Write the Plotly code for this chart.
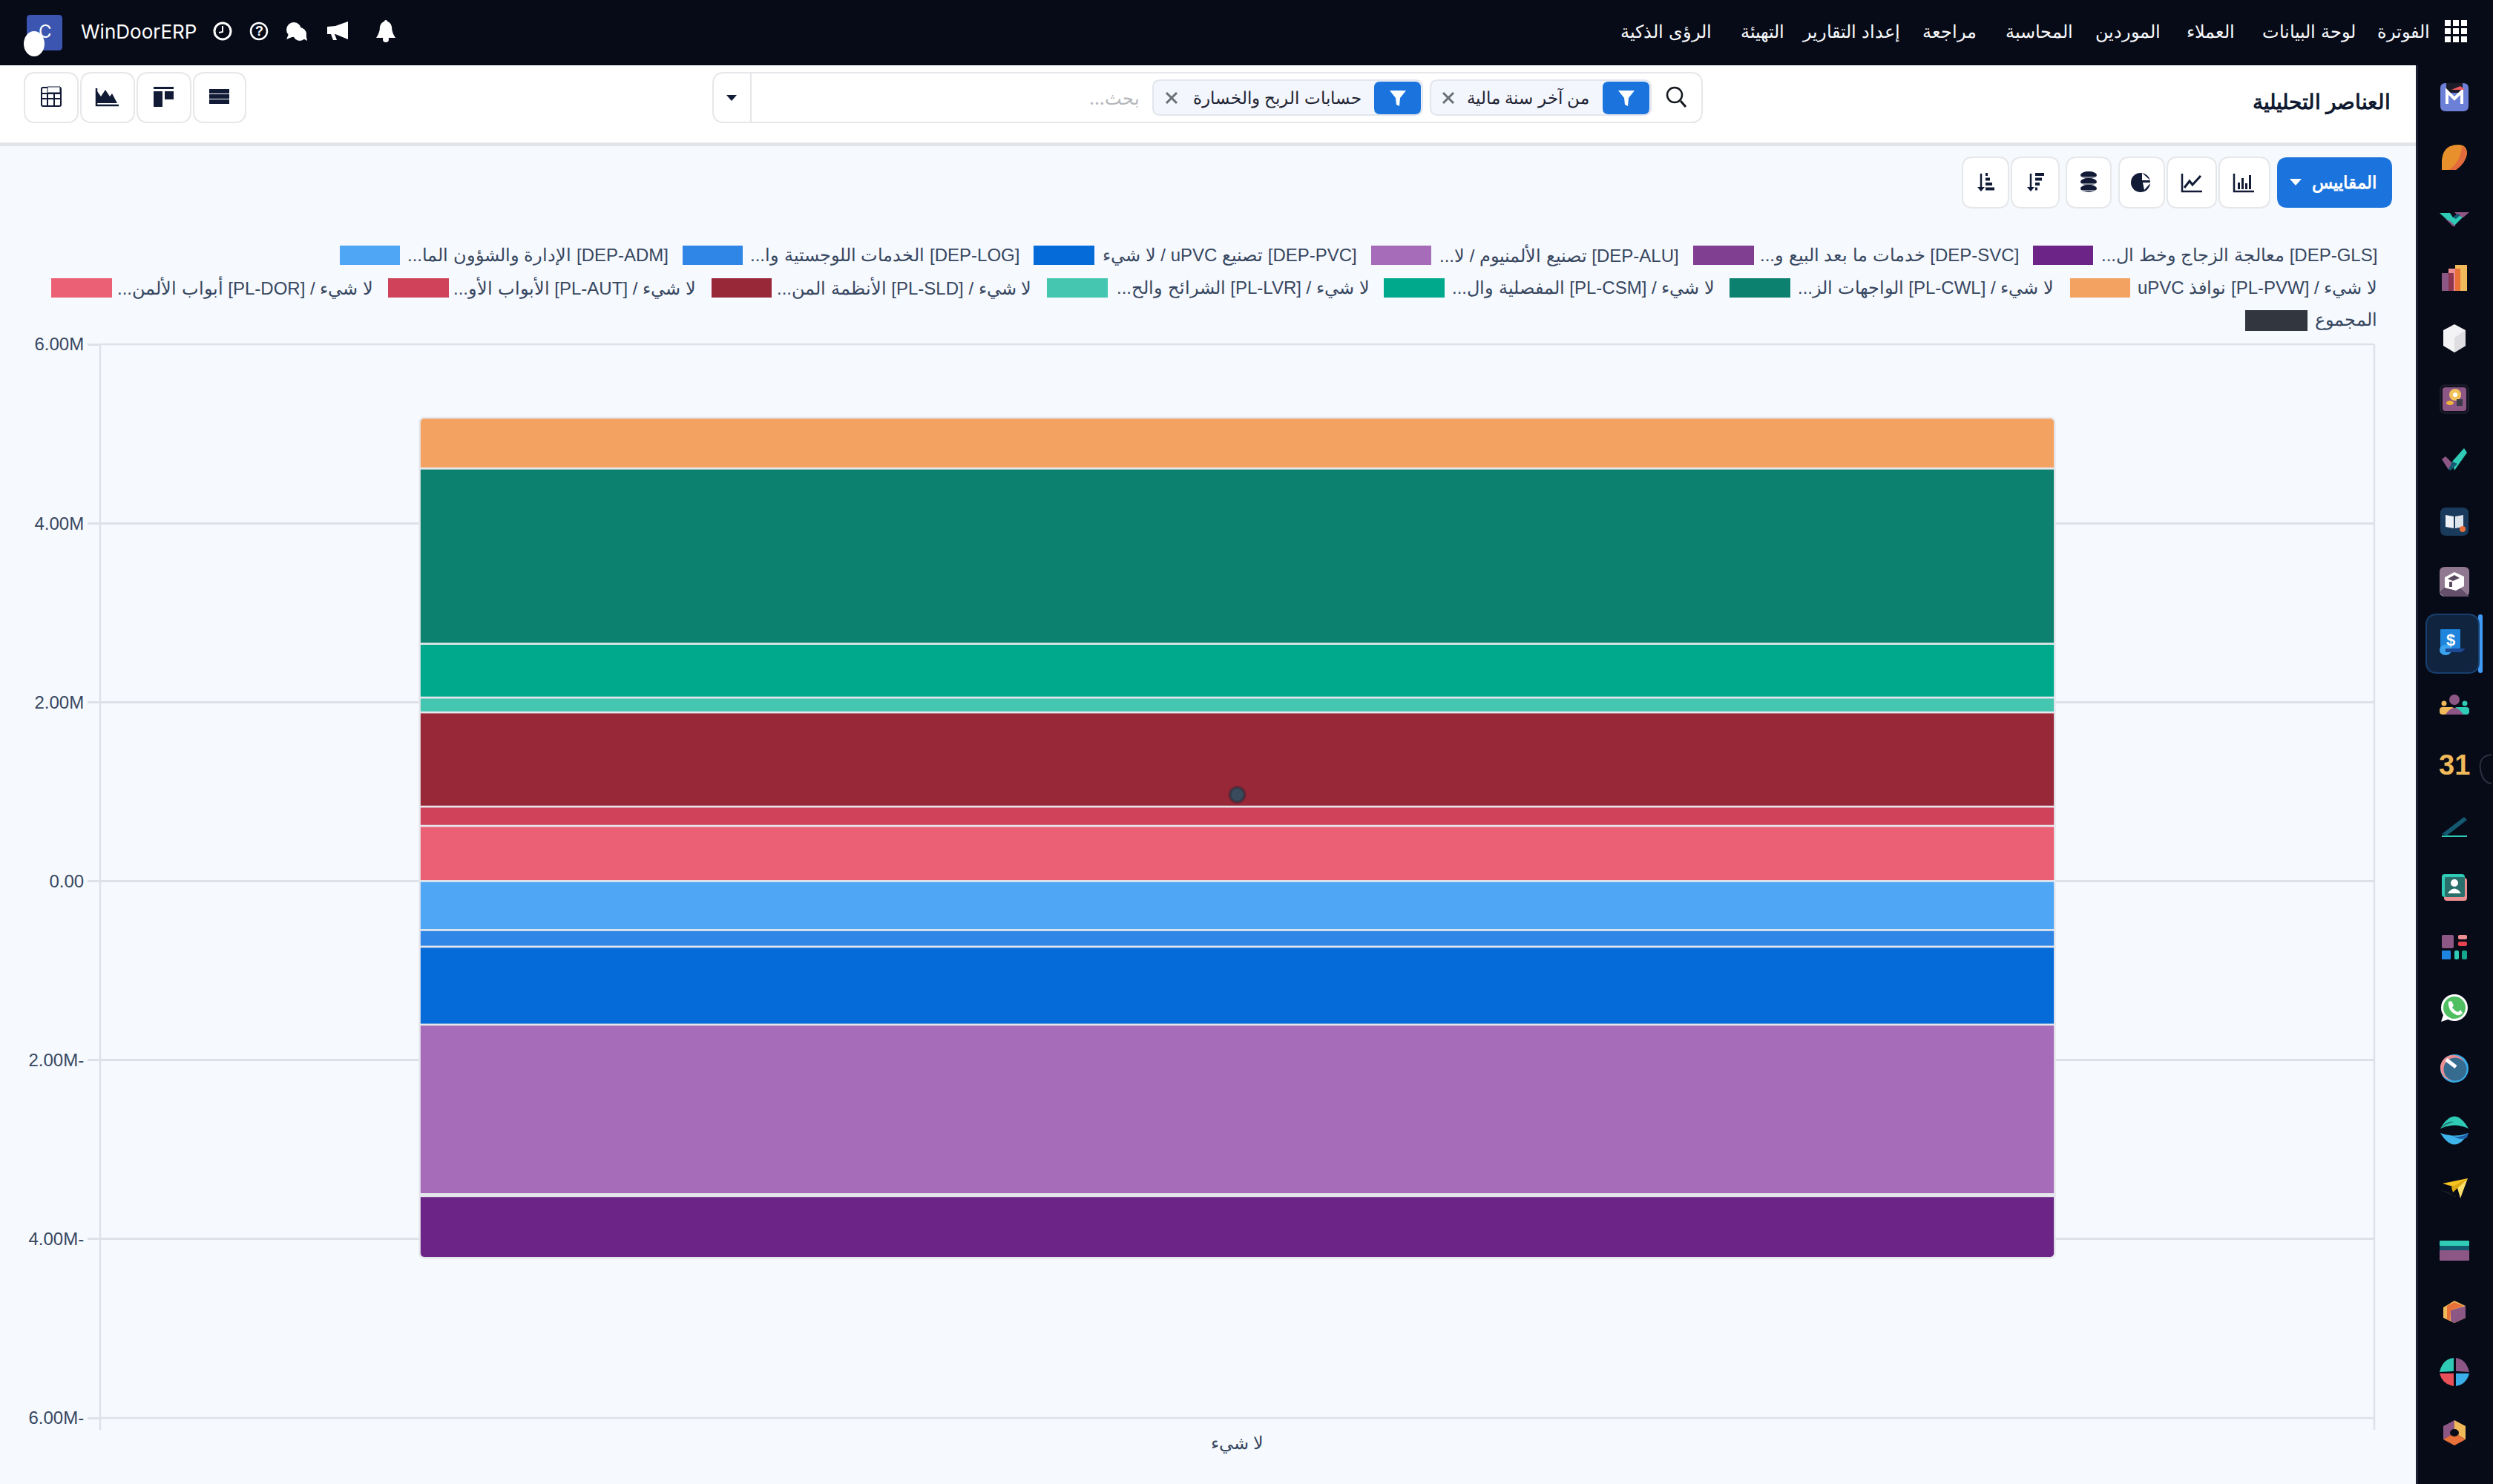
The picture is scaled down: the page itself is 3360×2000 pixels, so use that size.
import re
import plotly.graph_objects as go

# ---------- DATA ----------
category = ["لا شيء"]
series_names = [
    "[DEP-GLS] معالجة الزجاج وخط ال...", "[DEP-SVC] خدمات ما بعد البيع و...",
    "[DEP-ALU] تصنيع الألمنيوم / لا...", "[DEP-PVC] تصنيع uPVC / لا شيء",
    "[DEP-LOG] الخدمات اللوجستية وا...", "[DEP-ADM] الإدارة والشؤون الما...",
    "لا شيء / [PL-PVW] نوافذ uPVC", "لا شيء / [PL-CWL] الواجهات الز...",
    "لا شيء / [PL-CSM] المفصلية وال...", "لا شيء / [PL-LVR] الشرائح والح...",
    "لا شيء / [PL-SLD] الأنظمة المن...", "لا شيء / [PL-AUT] الأبواب الأو...",
    "لا شيء / [PL-DOR] أبواب الألمن...",
]
series_values = [-690000, -20000, -1895000, -871000, -186000, -548000,
                 566000, 1959000, 601000, 166000, 1053000, 215000, 618000]
series_colors = ["#6c2487", "#813f92", "#a66bb9", "#056bd9", "#3086e6", "#4ea6f4",
                 "#f4a261", "#0d8170", "#00a98c", "#44c6b1", "#982738", "#cf4259", "#ec6076"]
total_name = "المجموع"
total_values = [966000]
total_color = "#32363e"
tick_values = [6e6, 4e6, 2e6, 0, -2e6, -4e6, -6e6]
tick_labels = ["6.00M", "4.00M", "2.00M", "0.00", "2.00M-", "4.00M-", "6.00M-"]
menu_items = ["الفوترة", "لوحة البيانات", "العملاء", "الموردين", "المحاسبة", "مراجعة",
              "إعداد التقارير", "التهيئة", "الرؤى الذكية"]

# ---------- PAGE GEOMETRY ----------
W, H = 3360, 2000
BG = "#f6f9fe"; DARK = "#070b18"; BLUE = "#1b74dd"; NAVY = "#111b36"; EDGE = "#e6e7ea"
TEXT = "#374760"
UI_FONT = "Inter, sans-serif"
def fx(x): return x / W
def fy(y): return 1 - y / H

shapes, notes = [], []

def xform(d):
    toks = re.findall(r"[MLQCZ]|-?\d+\.?\d*", d)
    out, isx = [], True
    for t in toks:
        if t in "MLQCZ":
            out.append(t); isx = True
        else:
            out.append(f"{fx(float(t)):.6f}" if isx else f"{fy(float(t)):.6f}")
            isx = not isx
    s, i = "", 0
    while i < len(out):
        t = out[i]
        if t in "MLQCZ":
            s += t; i += 1
        else:
            s += out[i] + "," + out[i + 1] + " "; i += 2
    return s

def P(d, fill="rgba(0,0,0,0)", line=None, lw=0):
    shapes.append(dict(type="path", xref="paper", yref="paper", path=xform(d), fillcolor=fill,
                       line=dict(color=line or "rgba(0,0,0,0)", width=lw), layer="below"))

def RR(x0, y0, x1, y1, fill, line=None, lw=0, r=0):
    if r <= 0:
        d = f"M{x0} {y0} L{x1} {y0} L{x1} {y1} L{x0} {y1} Z"
    else:
        d = (f"M{x0+r} {y0} L{x1-r} {y0} Q{x1} {y0} {x1} {y0+r} L{x1} {y1-r} Q{x1} {y1} {x1-r} {y1} "
             f"L{x0+r} {y1} Q{x0} {y1} {x0} {y1-r} L{x0} {y0+r} Q{x0} {y0} {x0+r} {y0} Z")
    P(d, fill, line, lw)

def CI(cx, cy, r, fill, line=None, lw=0, ry=None):
    ry = ry or r
    shapes.append(dict(type="circle", xref="paper", yref="paper", x0=fx(cx - r), x1=fx(cx + r),
                       y0=fy(cy + ry), y1=fy(cy - ry), fillcolor=fill,
                       line=dict(color=line or "rgba(0,0,0,0)", width=lw), layer="below"))

def LN(x0, y0, x1, y1, color, w=2):
    shapes.append(dict(type="line", xref="paper", yref="paper", x0=fx(x0), x1=fx(x1), y0=fy(y0), y1=fy(y1),
                       line=dict(color=color, width=w), layer="below"))

def T(x, y, text, size=26, color=TEXT, anchor="right", family=UI_FONT, bold=False):
    t = f"<b>{text}</b>" if bold else text
    notes.append(dict(xref="paper", yref="paper", x=fx(x), y=fy(y), text=t, showarrow=False,
                      xanchor=anchor, yanchor="middle", borderpad=0,
                      font=dict(size=size, color=color, family=family)))

def rtl(s): return "\u202b" + s + "\u202c"

def poly(cx, cy, pts, fill):
    d = "M" + " L".join(f"{cx+a} {cy+b}" for a, b in pts) + " Z"
    P(d, fill)

# ---------- BACKGROUND FRAMES ----------
RR(0, 88, 3257, 192, "#ffffff")
RR(0, 192, 3257, 197, "#e3e4e8")
RR(0, 0, 3360, 88, DARK)
RR(3256, 0, 3360, 2000, DARK)
RR(3256, 88, 3259, 2000, "#1a2030")

# ---------- TOP BAR ----------
for x in (3295, 3306, 3317):
    for y in (27, 38, 49):
        RR(x, y, x + 8, y + 8, "#ffffff")
menu_right = [3276, 3176, 3013, 2913, 2795, 2665, 2562, 2406, 2308]
for x, s in zip(menu_right, menu_items):
    T(x, 42, s, size=23.5, color="#f8f9fb")
RR(36, 20, 84, 68, "#3b55b0", r=5)
CI(46, 59, 14, "#ffffff", ry=17)
T(61, 42, "C", size=24, color="#ffffff", anchor="center")
T(108, 42, "WinDoorERP", size=26, color="#ffffff", anchor="left")
CI(300, 42, 11, "rgba(0,0,0,0)", "#ffffff", 3)
P("M300 35 L300 43 L295 44", line="#ffffff", lw=2)
CI(349, 42, 11, "rgba(0,0,0,0)", "#ffffff", 2.5)
T(349, 42, "?", size=18, color="#ffffff", anchor="center", family="Liberation Sans", bold=True)
CI(396, 40, 10, "#ffffff"); CI(404, 46, 9, "#ffffff")
P("M389 46 L386 53 L396 49 Z", "#ffffff"); P("M405 50 L414 55 L412 45 Z", "#ffffff")
P("M441 36 L452 35 L469 29 L469 53 L452 46 L441 46 Z", "#ffffff")
P("M446 46 L451 46 L454 54 L449 54 Z", "#ffffff")
P("M507 51 Q512 44 512 36 Q513 30 520 28 Q527 30 528 36 Q528 44 533 51 Z", "#ffffff")
CI(520, 53, 4, "#ffffff"); CI(520, 29, 2, "#ffffff")

# ---------- HEADER ----------
T(3223, 138, "العناصر التحليلية", size=28, color="#101a30", bold=True)
for x0, x1 in [(33, 105), (109, 181), (185, 257), (261, 331)]:
    RR(x0, 98, x1, 165, "#ffffff", EDGE, 2, r=15)
RR(56, 118, 82, 143, "rgba(0,0,0,0)", NAVY, 2, r=2)
for x in (64, 73): LN(x, 126, x, 143, NAVY, 2)
for y in (126, 133): LN(56, y, 82, y, NAVY, 2)
RR(64, 117, 81, 125, "#ffffff", NAVY, 1)
P("M130 119 L130 142 L160 142", line=NAVY, lw=2.5)
P("M131 139 L131 123 L136 130 L142 121 L148 130 L151 126 L158 139 Z", NAVY)
RR(207, 117, 234, 120, NAVY); RR(207, 123, 219, 144, NAVY); RR(222, 123, 234, 134, NAVY)
for y in (120, 127, 134): RR(282, y, 309, y + 6, NAVY)
# ---------- SEARCH ----------
RR(961, 98, 2294, 165, "#ffffff", EDGE, 2, r=15)
LN(1012, 98, 1012, 165, EDGE, 2)
P("M979 128 L993 128 L986 136 Z", NAVY)
CI(2257, 128, 10, "rgba(0,0,0,0)", "#14181f", 2.5)
LN(2265, 136, 2272, 144, "#14181f", 3)
RR(1928, 108, 2225, 155, "#f3f6fc", "#e3e6ec", 2, r=10)
RR(2160, 110, 2223, 154, BLUE, r=8)
RR(1554, 108, 1917, 155, "#f3f6fc", "#e3e6ec", 2, r=10)
RR(1852, 110, 1915, 154, BLUE, r=8)
for cx in (2192, 1884):
    P(f"M{cx-11} 122 L{cx+11} 122 L{cx+3} 132 L{cx+2} 143 L{cx-2} 141 L{cx-3} 132 Z", "#ffffff")
T(2143, 132, "من آخر سنة مالية", size=23, color="#1f2433")
T(1836, 132, "حسابات الربح والخسارة", size=23, color="#1f2433")
for cx in (1952, 1579):
    LN(cx - 7, 125, cx + 7, 139, "#6b7078", 3); LN(cx - 7, 139, cx + 7, 125, "#6b7078", 3)
T(1537, 132, rtl("بحث..."), size=24, color="#b4b6bb")

# ---------- CONTROL ROW ----------
RR(3069, 212, 3224, 280, BLUE, r=14)
T(3204, 246, "المقاييس", size=23, color="#ffffff", bold=True)
P("M3086 241 L3102 241 L3094 250 Z", "#ffffff")
btns = [(2991, 3059), (2921, 2987), (2856, 2917), (2785, 2845), (2711, 2775), (2645, 2707)]
for x0, x1 in btns:
    RR(x0, 212, x1, 280, "#ffffff", EDGE, 2, r=14)
P("M3011 234 L3011 258 L3038 258", line=NAVY, lw=2.5)
for x, y in [(3016, 246), (3021, 240), (3026, 247), (3031, 236)]:
    RR(x, y, x + 3, 255, NAVY)
P("M2941 234 L2941 258 L2968 258", line=NAVY, lw=2.5)
P("M2944 253 L2951 244 L2955 249 L2966 237", line=NAVY, lw=3)
CI(2885, 246, 13, NAVY)
P("M2887 233 L2898 243 L2887 243 Z", "#ffffff")
P("M2888 246 L2899 246 L2890 256 Z", "#ffffff")
for y in (236, 245, 254):
    CI(2815, y, 11, NAVY, ry=5)
    LN(2805, y + 3, 2825, y + 3, "#ffffff", 1)
for cx, widths in ((2737, (12, 9, 6, 3)), (2670, (3, 6, 9, 12))):
    LN(cx, 234, cx, 256, NAVY, 2.5)
    P(f"M{cx-5} 252 L{cx+5} 252 L{cx} 258 Z", NAVY)
    for i, w in enumerate(widths):
        RR(cx + 6, 233 + i * 6.5, cx + 6 + w, 237 + i * 6.5, NAVY)

# ---------- CUSTOM LEGEND (rows run right to left) ----------
sw_rows = [(331, 357)] * 6 + [(375, 401)] * 7
sw_x = [(2740, 2821), (2282, 2364), (1848, 1929), (1393, 1475), (920, 1001), (458, 539),
        (2790, 2871), (2331, 2413), (1865, 1947), (1411, 1493), (959, 1040), (523, 605), (69, 151)]
tx_r = [3205, 2722, 2264, 1830, 1375, 902, 3205, 2769, 2312, 1847, 1391, 939, 504]
LEG_FONT = "Liberation Sans, Arial, sans-serif"
for name, col, (y0, y1), (x0, x1), r in zip(series_names, series_colors, sw_rows, sw_x, tx_r):
    RR(x0, y0, x1, y1, col)
    T(r, (y0 + y1) / 2, rtl(name), size=24, family=LEG_FONT)
RR(3026, 418, 3110, 446, total_color)
T(3205, 431, rtl(total_name), size=24, family=LEG_FONT)

# ---------- SIDEBAR ICONS ----------
cx = 3308
ys = [131, 212, 294, 375, 456, 538, 619, 703, 784, 866, 949, 1031, 1114, 1196, 1277, 1359, 1440, 1524, 1603, 1687, 1768, 1849, 1931]
PUR = "#8c5785"; TEAL = "#2fcbb6"; ORG = "#e8713a"; YEL = "#f0b95a"; PINK = "#ec8f92"; SKY = "#3aaee8"; DTEAL = "#13596f"
def box(y, s, fill, r=6): RR(cx - s, y - s, cx + s, y + s, fill, r=r)
y = ys[0]; box(y, 19, "#6c80d8", 7); RR(cx - 11, y - 19, cx + 11, y - 6, "#1c1c28")
P(f"M{cx-10} {y+9} L{cx-10} {y-8} L{cx} {y+2} L{cx+10} {y-8} L{cx+10} {y+9}", line="#ffffff", lw=4)
P(f"M{cx-4} {y-10} L{cx+14} {y-10} L{cx+8} {y-15} Z", "#ec5a5f")
y = ys[1]; P(f"M{cx-17} {y+17} L{cx-17} {y+4} Q{cx-15} {y-17} {cx+5} {y-17} Q{cx+17} {y-17} {cx+17} {y-5} Q{cx+15} {y+8} {cx+2} {y+17} Z", "#e8902b")
P(f"M{cx+2} {y+17} Q{cx+15} {y+8} {cx+17} {y-5} Q{cx+16} {y-13} {cx+10} {y-15} Q{cx+8} {y+8} {cx-8} {y+17} Z", "#e36a3c")
y = ys[2]; poly(cx, y, [(-20, -7), (-6, -7), (-2, -1), (6, -4), (12, -2), (0, 10), (-6, 6)], TEAL)
poly(cx, y, [(0, -8), (20, -8), (12, -1), (4, -4)], PUR); poly(cx, y, [(-12, 1), (-6, 4), (2, 11), (-2, 11)], PUR)
poly(cx, y, [(-2, -1), (4, -6), (8, -4), (2, 1)], DTEAL)
y = ys[3]; RR(cx - 17, y - 7, cx - 5, y + 17, PUR); RR(cx - 8, y - 13, cx + 1, y + 17, PINK)
RR(cx + 1, y - 18, cx + 17, y + 17, YEL); RR(cx + 1, y - 13, cx + 8, y + 17, ORG); RR(cx - 8, y - 7, cx - 1, y + 17, "#8c3550")
y = ys[4]; poly(cx, y, [(0, -19), (15, -11), (15, 10), (0, 19), (-15, 10), (-15, -11)], "#f3f3f5")
poly(cx, y, [(0, -1), (15, -11), (15, 10), (0, 19)], "#dddde2")
y = ys[5]; RR(cx - 19, y - 19, cx + 19, y + 19, "#12121f", "#2a2a3c", 1, r=6); RR(cx - 16, y - 16, cx + 16, y + 16, "#8c5785", r=4)
CI(cx + 1, y - 6, 8, "#f2c25a"); CI(cx + 1, y - 6, 3, "#ffffff"); CI(cx - 6, y + 5, 5, "#f2b53a", ry=3); RR(cx + 3, y, cx + 11, y + 9, "#3b3b4a")
y = ys[6]; poly(cx, y, [(-3, 3), (13, -15), (17, -9), (0, 15)], TEAL)
poly(cx, y, [(-17, 0), (-12, -4), (-3, 5), (-8, 14)], PUR); poly(cx, y, [(-8, 14), (-3, 3), (4, 6), (-5, 15)], DTEAL)
y = ys[7]; box(y, 19, "#1b3b5c", 8); poly(cx, y, [(-12, -9), (-1, -7), (-1, 9), (-12, 7)], "#edf0f4"); poly(cx, y, [(1, -7), (12, -9), (12, 7), (1, 9)], "#dde3ea"); CI(cx + 11, y + 10, 4, ORG)
y = ys[8]; box(y, 20, "#8f7890", 7); P(f"M{cx-20} {y+14} L{cx-3} {y-2} L{cx+20} {y+20} L{cx-14} {y+20} Z", "#64506a")
poly(cx, y, [(-13, -6), (0, -13), (13, -7), (13, 6), (2, 12), (-13, 8)], "#ffffff"); poly(cx, y, [(-9, -4), (0, -9), (7, -5), (-2, -1)], "#5a4a60"); RR(cx - 7, y, cx - 3, y + 7, "#5a4a60")
y = ys[9]; RR(3340, 828, 3346, 907, "#3f9bf5", r=3); RR(3270, 828, 3341, 907, "#10243f", "#17406e", 2, r=15)
RR(cx - 19, y - 18, cx + 8, y + 8, "#1f84db", r=1); CI(cx - 12, y + 10, 8, "#3aa5ee", ry=7); P(f"M{cx-12} {y+8} L{cx+15} {y+8} L{cx+9} {y+13} L{cx-12} {y+13} Z", "#1c4a96")
T(cx - 5, y - 4, "$", size=22, color="#ffffff", anchor="center", family="Liberation Sans", bold=True)
y = ys[10]; CI(cx, y - 6, 7, PUR); CI(cx - 14, y - 1, 3.5, YEL); CI(cx + 14, y - 1, 3.5, TEAL)
RR(cx - 20, y + 4, cx, y + 14, YEL, r=4); RR(cx, y + 4, cx + 20, y + 14, TEAL, r=4); P(f"M{cx-12} {y+14} Q{cx} {y-4} {cx+12} {y+14} Z", PUR)
T(cx, ys[11], "31", size=38, color=YEL, anchor="center", family="Liberation Sans", bold=True)
P("M3358 1017 Q3340 1019 3343 1037 Q3346 1055 3358 1056", line="#2a3040", lw=2)
y = ys[12]; poly(cx, y, [(-17, 10), (13, -13), (17, -9), (-10, 12)], DTEAL); RR(cx - 17, y + 12, cx + 17, y + 14, TEAL)
y = ys[13]; RR(cx - 14, y - 13, cx + 17, y + 18, PINK, r=4); RR(cx - 17, y - 18, cx + 14, y + 13, TEAL, r=4); RR(cx - 13, y - 14, cx + 14, y + 13, "#2a6f6b", r=2)
CI(cx, y - 6, 5, "#ffffff"); P(f"M{cx-9} {y+8} Q{cx} {y-5} {cx+9} {y+8} Z", "#ffffff")
y = ys[14]; RR(cx - 17, y - 17, cx - 1, y + 1, PUR, r=2); RR(cx + 5, y - 17, cx + 17, y - 11, PINK, r=2); RR(cx + 5, y - 8, cx + 17, y - 2, "#e8414f", r=2)
RR(cx - 17, y + 4, cx - 5, y + 16, "#1f84e0", r=1); RR(cx, y + 4, cx + 6, y + 16, TEAL, r=2); RR(cx + 10, y + 4, cx + 17, y + 16, "#14a88c", r=2)
y = ys[15]; CI(cx, y - 1, 18, "#ffffff"); P(f"M{cx-18} {y+18} L{cx-14} {y+6} L{cx-6} {y+14} Z", "#ffffff"); CI(cx, y - 1, 15, "#4fbf62")
P(f"M{cx-8} {y-9} L{cx-4} {y-10} L{cx-1} {y-4} L{cx-3} {y-1} Q{cx+1} {y+4} {cx+5} {y+5} L{cx+8} {y+2} L{cx+11} {y+6} Q{cx+8} {y+10} {cx+3} {y+9} Q{cx-9} {y+4} {cx-8} {y-9} Z", "#ffffff")
y = ys[16]; CI(cx, y, 19, SKY); CI(cx - 2, y - 1, 17, PINK); CI(cx + 1, y + 1, 15.5, "#356c90"); LN(cx - 11, y - 12, cx + 2, y - 2, "#ffffff", 5)
y = ys[17]; P(f"M{cx-19} {y-3} Q{cx} {y-36} {cx+19} {y-3} Q{cx} {y-12} {cx-19} {y-3} Z", TEAL); P(f"M{cx-19} {y+3} Q{cx} {y+34} {cx+19} {y+3} Q{cx} {y+10} {cx-19} {y+3} Z", "#3fb4ea")
P(f"M{cx-19} {y-3} Q{cx-10} {y-15} {cx} {y-12} Q{cx-10} {y-10} {cx-19} {y-3} Z", "#237d78"); P(f"M{cx+19} {y+3} Q{cx+8} {y+10} {cx-2} {y+7} Q{cx+9} {y+14} {cx+17} {y+9} Z", "#1f5fa8")
y = ys[18]; poly(cx, y, [(-16, -8), (18, -15), (4, -2)], "#f7c320"); poly(cx, y, [(4, -2), (18, -15), (8, 12)], "#fbe06a"); poly(cx, y, [(-4, -3), (18, -15), (-2, 4)], "#e0a810")
for k in range(3): LN(cx - 18 + k * 4, y + 1 + k, cx - 6 + k * 4, y + 6 + k * 2, "#1e2028", 1)
y = ys[19]; RR(cx - 20, y - 15, cx + 20, y - 8, TEAL, r=1); RR(cx - 20, y - 8, cx + 20, y - 2, DTEAL); RR(cx - 20, y - 2, cx + 20, y + 12, "#8c5785", r=1)
y = ys[20]; poly(cx, y, [(-15, -6), (0, -15), (15, -8), (15, 8), (0, 15), (-15, 8)], YEL); poly(cx, y, [(-10, -8), (0, -13), (12, -8), (-5, -2), (-6, 12), (-10, 10)], ORG); poly(cx, y, [(-5, -2), (15, -8), (15, 8), (0, 15), (-5, 12)], PUR)
y = ys[21]; P(f"M{cx-20} {y} Q{cx-16} {y-17} {cx-1} {y-19} L{cx-1} {y-1} Z", TEAL); P(f"M{cx+20} {y} Q{cx+16} {y-17} {cx+2} {y-19} L{cx+2} {y-1} Z", PUR)
P(f"M{cx-20} {y+2} Q{cx-16} {y+17} {cx-1} {y+19} L{cx-1} {y+2} Z", "#e8505a"); P(f"M{cx+20} {y+2} Q{cx+16} {y+17} {cx+2} {y+19} L{cx+2} {y+2} Z", SKY)
y = ys[22]; poly(cx, y, [(-15, -9), (0, -17), (0, 0), (-15, 9)], PUR); poly(cx, y, [(0, -17), (15, -9), (15, 9), (0, 0)], YEL); poly(cx, y, [(-15, 9), (0, 0), (15, 9), (0, 17)], ORG); CI(cx, y, 6, DARK, ry=5)

# ---------- CHART ----------
fig = go.Figure()
for name, val, col in reversed(list(zip(series_names, series_values, series_colors))):
    fig.add_trace(go.Bar(x=category, y=[val], name=name, marker=dict(color=col, line=dict(color="#e5e7ec", width=2.5)),
                         hoverinfo="skip", showlegend=False))
fig.add_trace(go.Scatter(x=category, y=total_values, name=total_name, mode="markers",
                         marker=dict(size=20, color="#394b5c", line=dict(color="rgba(40,40,50,0.45)", width=4)),
                         hoverinfo="skip", showlegend=False))

GRID = "#dee2e8"
LN(135, 464, 135, 1927, GRID, 2.5)
LN(3200, 464, 3200, 1927, GRID, 2.5)
LN(135, 464, 3200, 464, GRID, 2.5)
LN(135, 1911, 3200, 1911, GRID, 2.5)

fig.update_layout(
    width=W, height=H, margin=dict(l=0, r=0, t=0, b=0, pad=0, autoexpand=False),
    paper_bgcolor=BG, plot_bgcolor="rgba(0,0,0,0)", barmode="relative", bargap=0.281, barcornerradius=6,
    showlegend=False, shapes=shapes, annotations=notes,
    xaxis=dict(domain=[fx(135), fx(3200)], type="category", range=[-0.5, 0.5], showgrid=False, zeroline=False,
               showline=False, ticks="outside", ticklen=12, tickcolor="rgba(0,0,0,0)", tickwidth=1,
               tickfont=dict(size=24, color=TEXT, family="Liberation Sans, Arial, sans-serif")),
    yaxis=dict(domain=[fy(1911), fy(464)], range=[-6e6, 6e6], tickmode="array", tickvals=tick_values, ticktext=tick_labels,
               showgrid=True, gridcolor=GRID, gridwidth=2.5, zeroline=True, zerolinecolor=GRID, zerolinewidth=2.5,
               showline=False, ticks="outside", ticklen=16, tickcolor=GRID, tickwidth=2.5,
               tickfont=dict(size=24, color=TEXT, family="Liberation Sans, Arial, sans-serif")),
)
fig.write_html("out.html", config={"displayModeBar": False},
               post_script="document.body.style.margin='0';document.body.style.overflow='hidden';")
